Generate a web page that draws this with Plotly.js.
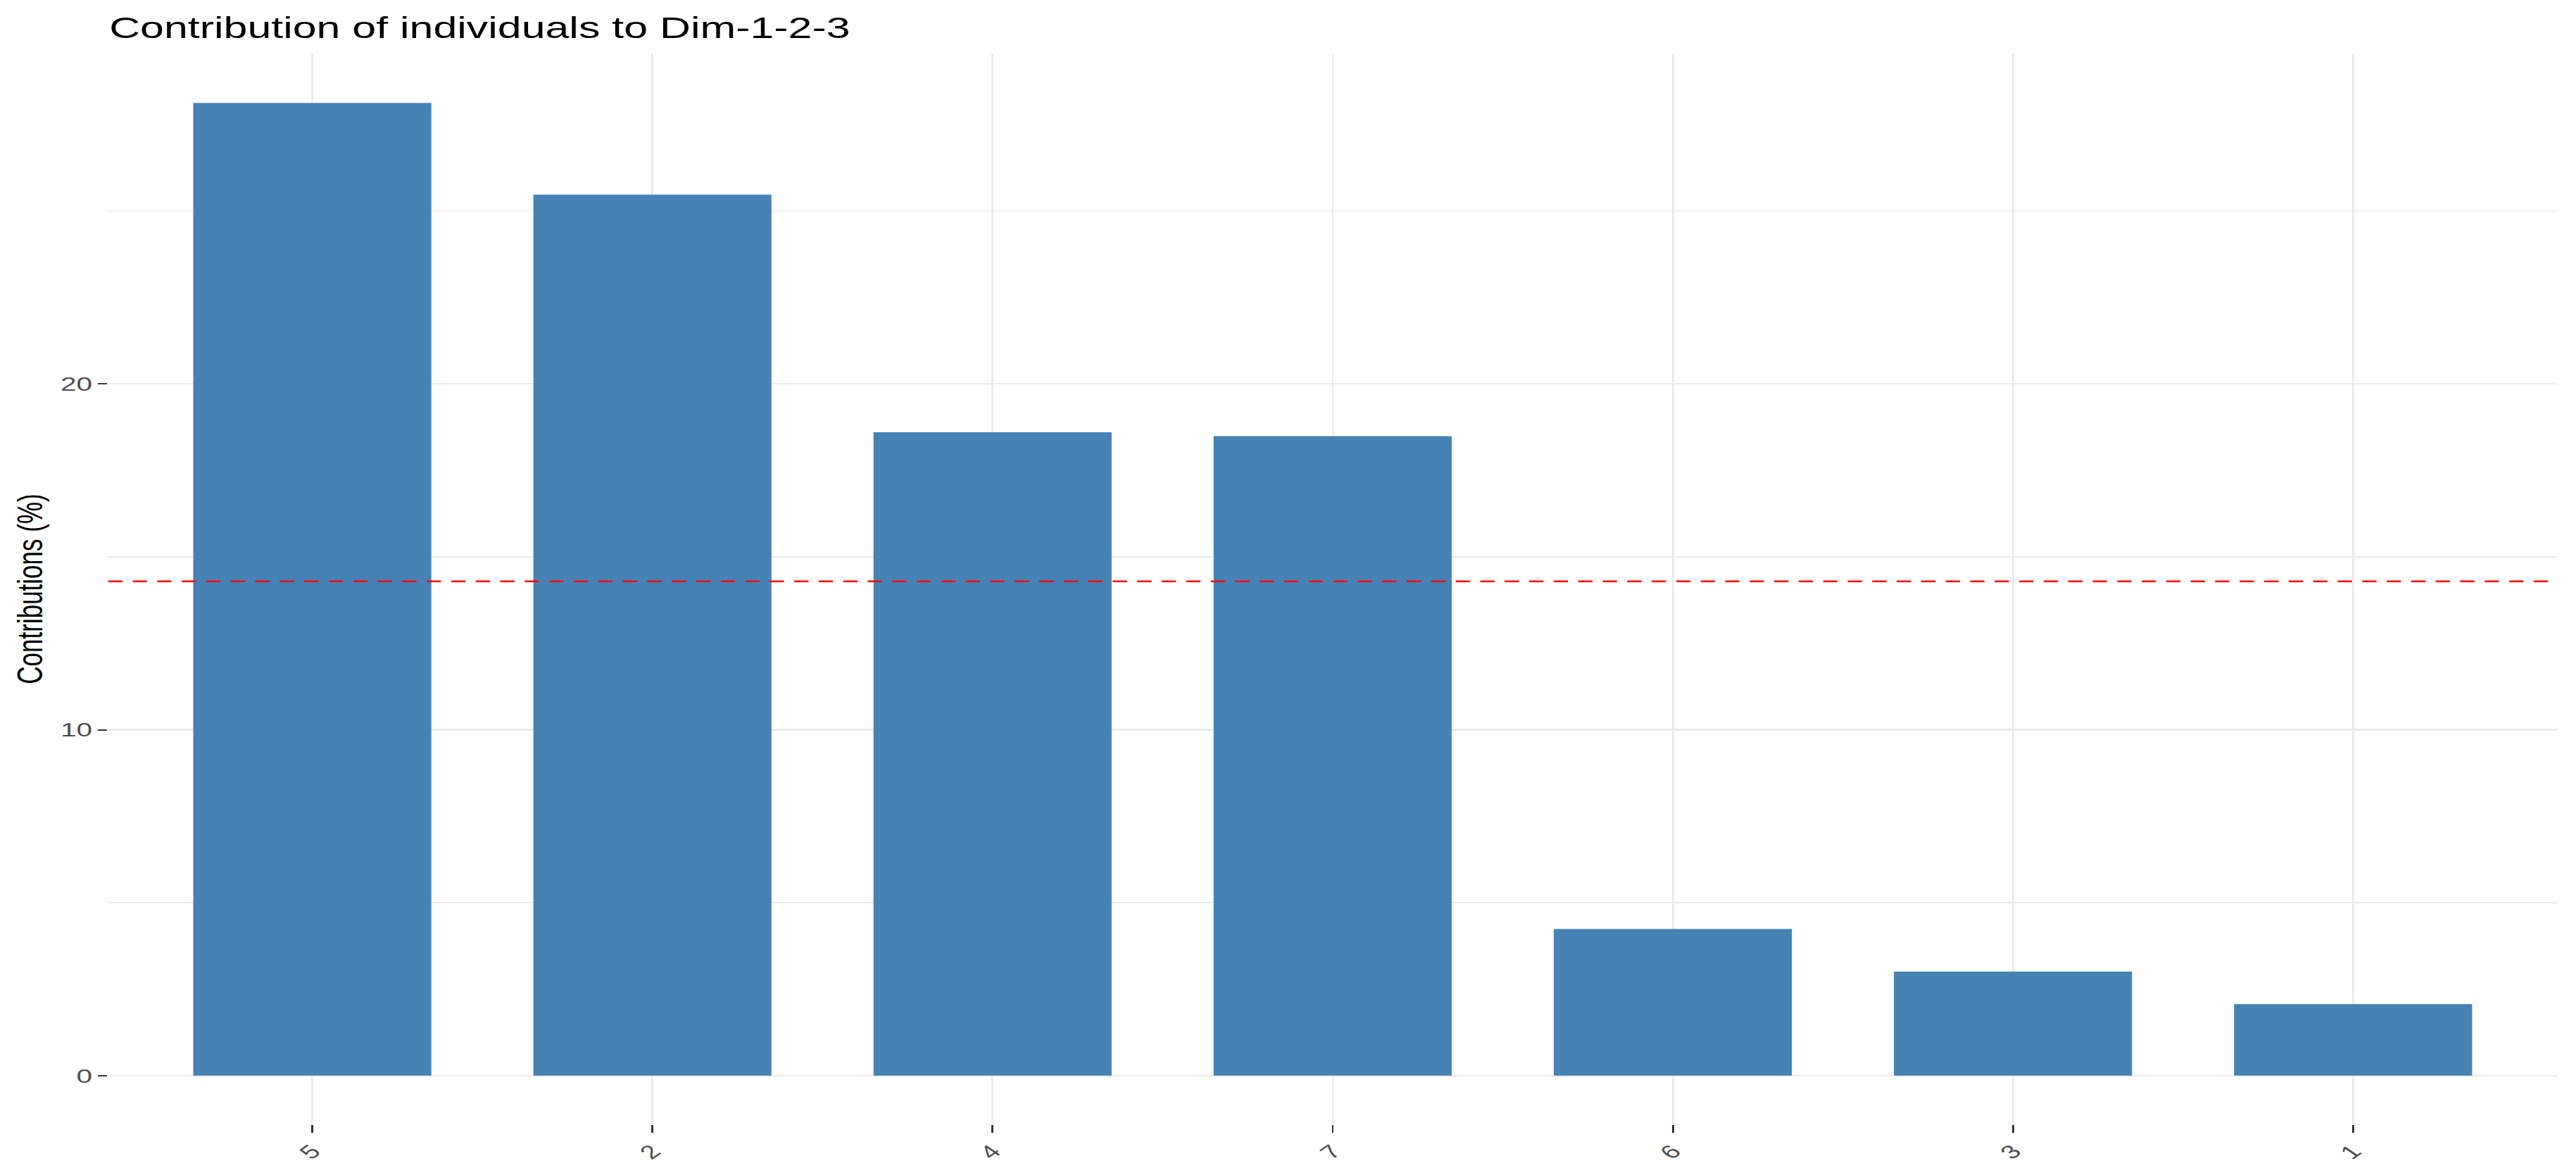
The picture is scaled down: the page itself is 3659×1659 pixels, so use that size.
<!DOCTYPE html>
<html>
<head>
<meta charset="utf-8">
<script src="https://cdn.plot.ly/plotly-3.0.1.min.js"></script>
<style>
  html, body { margin: 0; padding: 0; background: #ffffff; overflow: hidden; }
  #wrap { width: 3659px; height: 1659px; overflow: hidden; }
  #chart { width: 2523px; height: 1659px; transform: scaleX(1.45); transform-origin: 0 0; }
</style>
</head>
<body>
<div id="wrap"><div id="chart"></div></div>
<script>
// ---- data ----
const individuals = ['5', '2', '4', '7', '6', '3', '1'];
const contributions = [28.12, 25.47, 18.60, 18.49, 4.24, 3.01, 2.07];
const expectedContribution = 14.29;   // red dashed reference line
const yTickValues = [0, 10, 20];
const yMinorValues = [5, 15, 25];
const chartTitle = 'Contribution of individuals to Dim-1-2-3';
const yTitle = 'Contributions (%)';

const W = 2523, H = 1659;
const fontFam = '"Liberation Sans", Arial, sans-serif';
const gridCol = '#EBEBEB';

const trace = {
  type: 'bar',
  x: individuals,
  y: contributions,
  width: 0.7,
  marker: { color: '#4682B4', line: { width: 0 } },
  hoverinfo: 'x+y'
};

const layout = {
  width: W, height: H,
  paper_bgcolor: '#ffffff',
  plot_bgcolor: '#ffffff',
  margin: { l: 106, r: 18, t: 76, b: 62, pad: 0 },
  showlegend: false,
  font: { family: fontFam, color: '#000000' },
  title: {
    text: chartTitle,
    font: { family: fontFam, size: 42, color: '#000000' },
    xref: 'container', yref: 'paper',
    x: 107 / W, xanchor: 'left',
    y: 1, yanchor: 'bottom',
    pad: { b: 22 }
  },
  xaxis: {
    type: 'category',
    categoryorder: 'array',
    categoryarray: individuals,
    range: [-0.6, individuals.length - 0.4],
    showgrid: true, gridcolor: gridCol, gridwidth: 2,
    zeroline: false, showline: false,
    ticks: 'outside', ticklen: 11, tickwidth: 2, tickcolor: '#333333',
    tickangle: -45,
    tickfont: { family: fontFam, size: 27, color: '#4D4D4D' },
    fixedrange: true
  },
  yaxis: {
    range: [-1.407, 29.55],
    tickmode: 'array', tickvals: yTickValues, ticktext: yTickValues.map(String),
    showgrid: true, gridcolor: gridCol, gridwidth: 2.5,
    minor: { tickmode: 'array', tickvals: yMinorValues, showgrid: true, gridcolor: gridCol, gridwidth: 1.8, ticklen: 0 },
    zeroline: false, showline: false,
    ticks: 'outside', ticklen: 9, tickwidth: 2, tickcolor: '#333333',
    tickfont: { family: fontFam, size: 28, color: '#4D4D4D' },
    title: { text: yTitle, font: { family: fontFam, size: 35, color: '#000000' }, standoff: 6 },
    fixedrange: true
  },
  shapes: [{
    type: 'line', xref: 'paper', x0: 0, x1: 1,
    yref: 'y', y0: expectedContribution, y1: expectedContribution,
    line: { color: '#FF0000', width: 2.7, dash: '14px,10px' },
    layer: 'above'
  }]
};

Plotly.newPlot('chart', [trace], layout, { staticPlot: true, displayModeBar: false });
</script>
</body>
</html>
